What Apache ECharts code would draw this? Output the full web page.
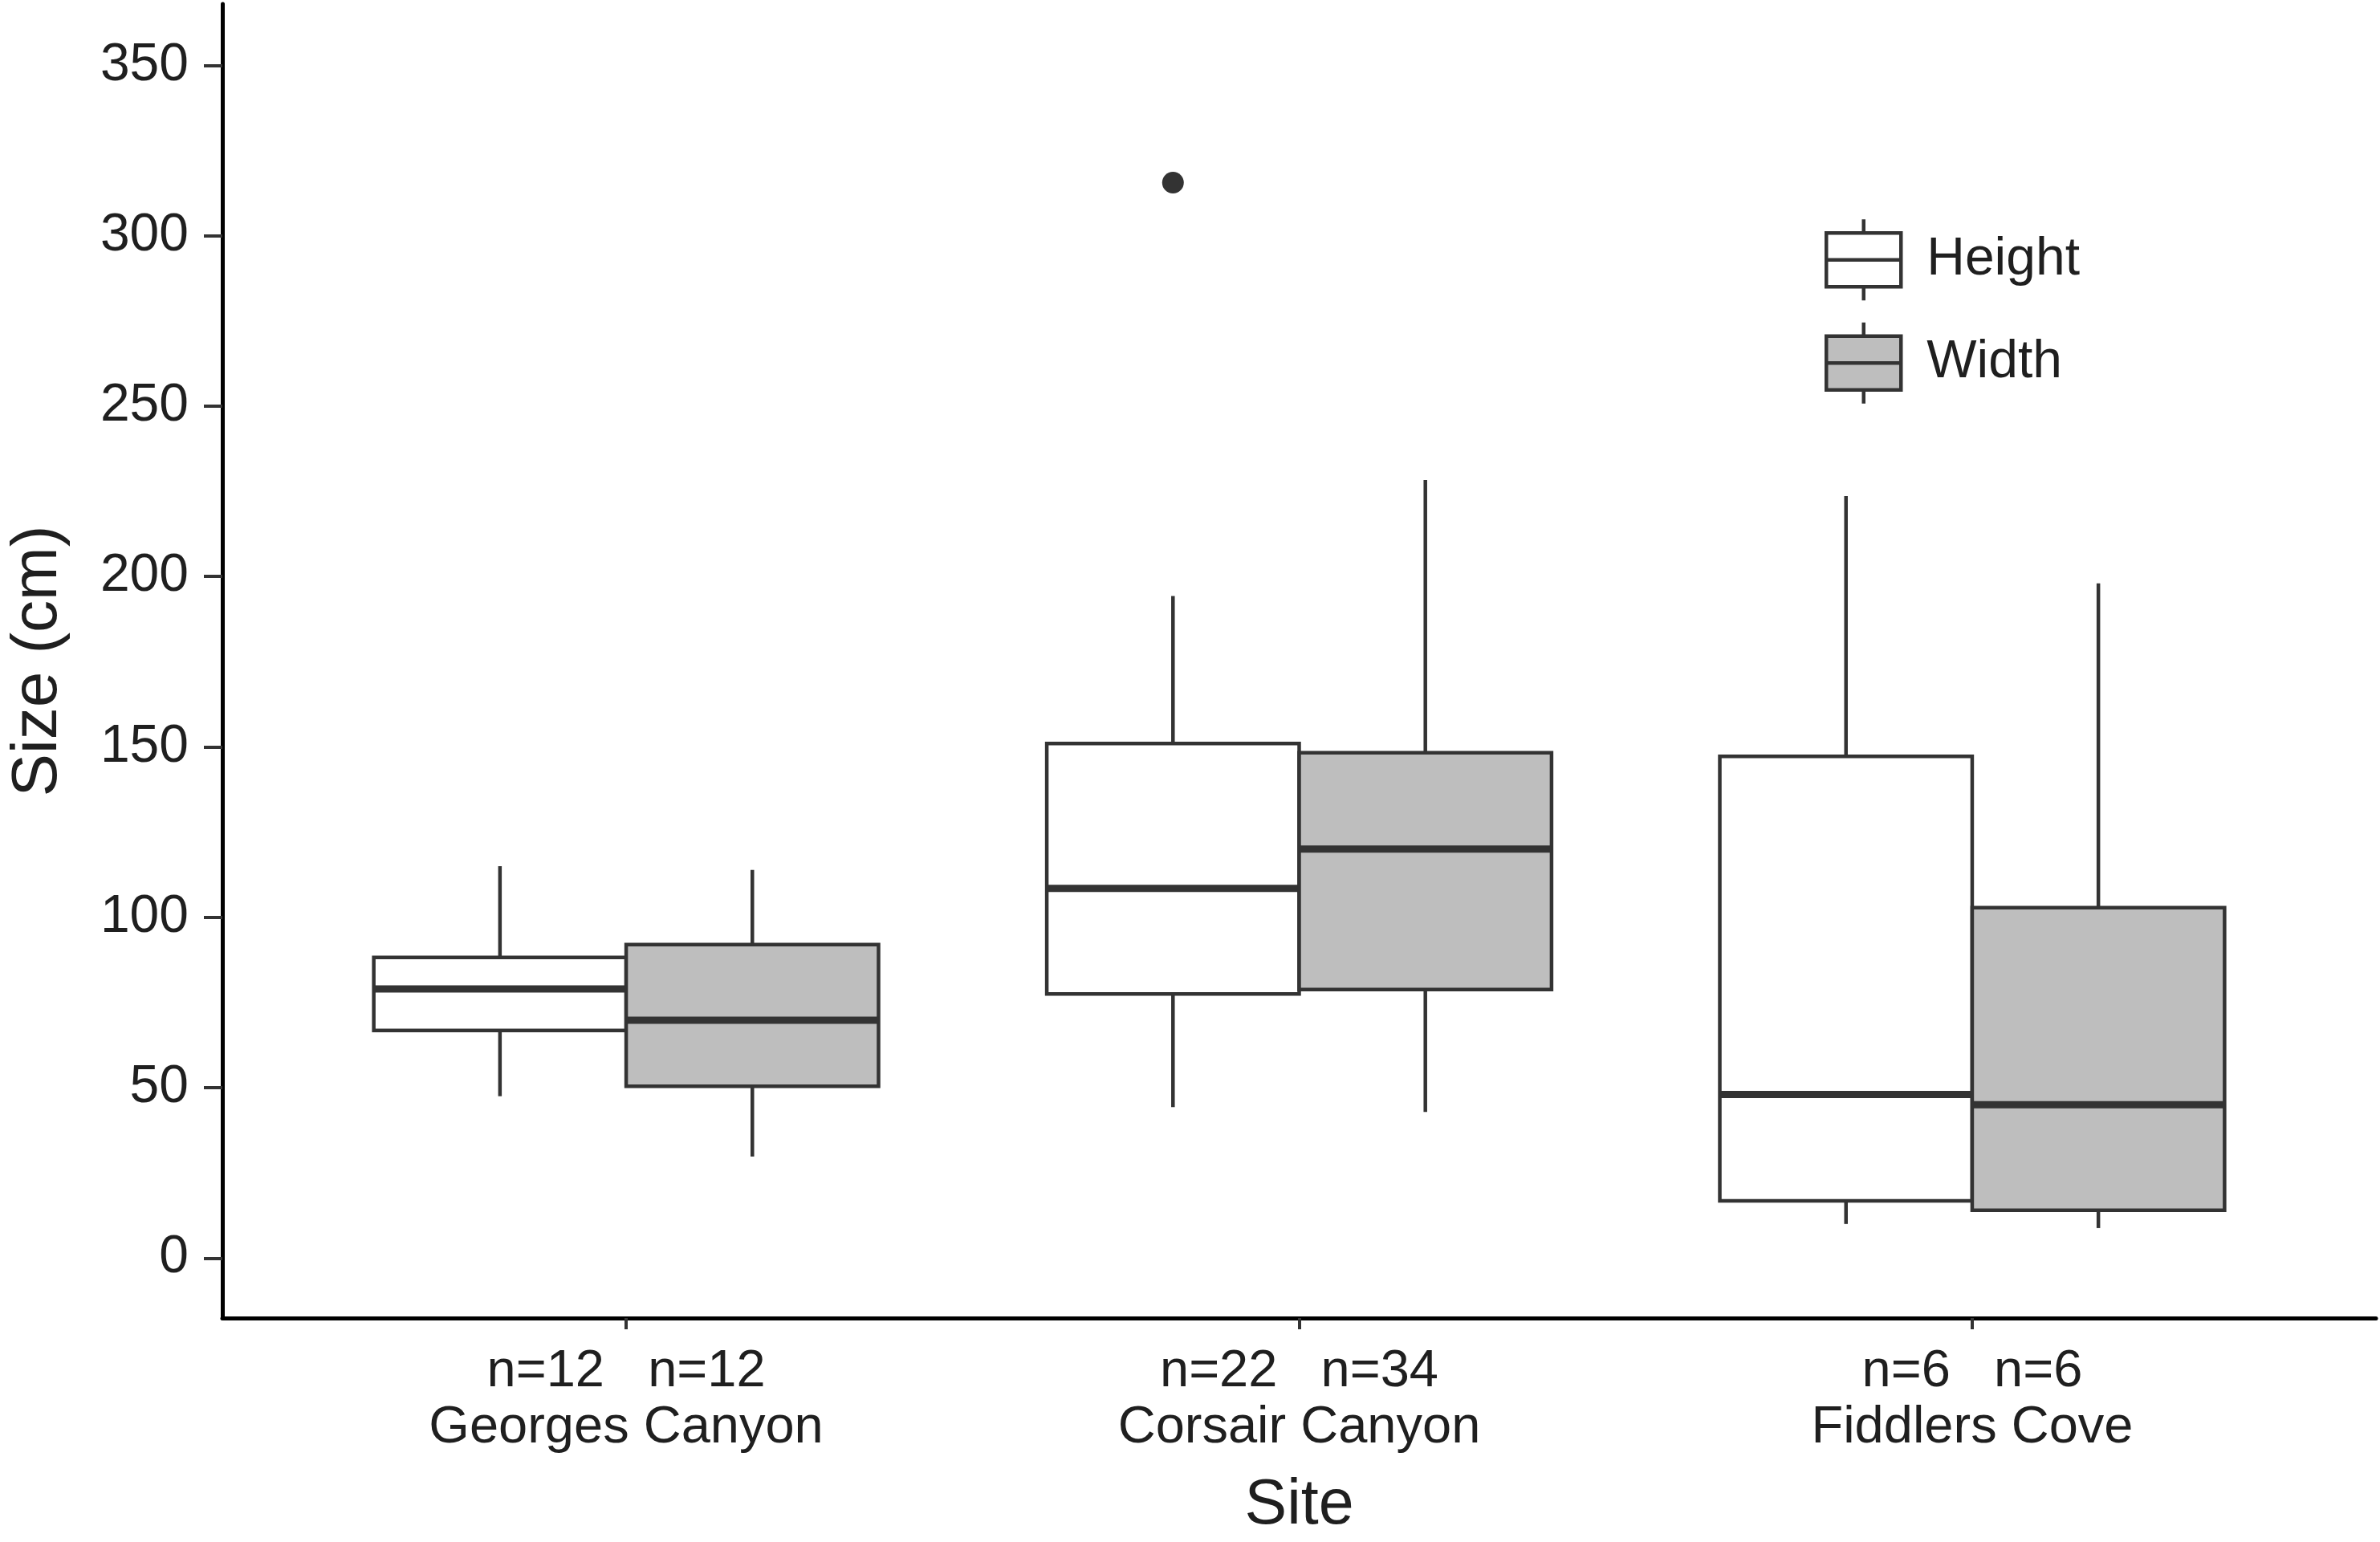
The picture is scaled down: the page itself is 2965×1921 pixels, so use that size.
<!DOCTYPE html>
<html>
<head>
<meta charset="utf-8">
<title>Size by site</title>
<script src="https://cdn.jsdelivr.net/npm/echarts@6/dist/echarts.min.js"></script>
<style>
  html, body { margin: 0; padding: 0; background: #fff; }
  #chart { width: 2965px; height: 1921px; }
</style>
</head>
<body>
<div id="chart"></div>
<script>
// sites along the x axis
var sites = ['Georges Canyon', 'Corsair Canyon', 'Fiddlers Cove'];
// sample sizes
var heightN = [12, 22, 6];
var widthN = [12, 34, 6];
// box stats per site: [lower whisker, Q1, median, Q3, upper whisker]
var heightBox = [
    [47.5, 66.8, 79, 88.2, 115],
    [44.3, 77.5, 108.5, 151, 194.3],
    [10, 16.8, 48, 147.2, 223.6]
];
var widthBox = [
    [29.8, 50.4, 69.8, 92, 113.9],
    [42.9, 78.8, 120, 148.3, 228.3],
    [8.8, 14, 45, 102.8, 198]
];
// outliers per site
var heightOutliers = [[], [315.6], []];
var widthOutliers = [[], [], []];
// y tick labels
var yTicks = [0, 50, 100, 150, 200, 250, 300, 350];

var LINE = '#333333';
var TEXT = '#1f1f1f';
var FONT = 'Liberation Sans, Arial, sans-serif';
var HALF = 0.1875;   // half of one dodged box, in category units

var chart = echarts.init(document.getElementById('chart'));

function boxData(boxes) {
    var out = [];
    for (var i = 0; i < boxes.length; i++) {
        out.push([i + 1].concat(boxes[i]));
    }
    return out;
}

// draws one box + whiskers + outliers, shifted left/right for dodge
function makeRender(outliers, offset, fill) {
    return function (params, api) {
        var x = api.value(0) + offset;
        var left = api.coord([x - HALF, 0])[0];
        var right = api.coord([x + HALF, 0])[0];
        var cx = api.coord([x, 0])[0];
        var y = function (v) { return api.coord([x, v])[1]; };
        var lo = y(api.value(1)), q1 = y(api.value(2)), med = y(api.value(3));
        var q3 = y(api.value(4)), hi = y(api.value(5));
        var lineStyle = { stroke: LINE, lineWidth: 4.5 };
        var children = [
            { type: 'line', shape: { x1: cx, y1: q3, x2: cx, y2: hi }, style: lineStyle },
            { type: 'line', shape: { x1: cx, y1: q1, x2: cx, y2: lo }, style: lineStyle },
            { type: 'rect', shape: { x: left, y: q3, width: right - left, height: q1 - q3 },
              style: { fill: fill, stroke: LINE, lineWidth: 4.5 } },
            { type: 'line', shape: { x1: left, y1: med, x2: right, y2: med },
              style: { stroke: LINE, lineWidth: 9 } }
        ];
        var pts = outliers[params.dataIndex] || [];
        for (var k = 0; k < pts.length; k++) {
            children.push({ type: 'circle', shape: { cx: cx, cy: y(pts[k]), r: 13.5 },
                style: { fill: LINE } });
        }
        return { type: 'group', children: children };
    };
}

var keyIcon = 'path://M46.5,0L46.5,17M0,17L93,17L93,84L0,84ZM0,50.5L93,50.5M46.5,84L46.5,101';

var option = {
    animation: false,
    backgroundColor: '#fff',
    grid: { left: 272, right: 5, top: 5, bottom: 269 },
    legend: {
        left: 2268,
        top: 266,
        orient: 'vertical',
        itemWidth: 93,
        itemHeight: 101,
        itemGap: 23,
        itemStyle: { borderColor: LINE, borderWidth: 4.5 },
        textStyle: { fontFamily: FONT, fontSize: 66, color: TEXT, padding: [0, 0, 0, 27] },
        data: [
            { name: 'Height', icon: keyIcon },
            { name: 'Width', icon: keyIcon }
        ]
    },
    xAxis: {
        type: 'value',
        min: 0.4,
        max: 3.6,
        name: 'Site',
        nameLocation: 'middle',
        nameGap: 195,
        nameTextStyle: { fontFamily: FONT, fontSize: 79, color: TEXT },
        splitLine: { show: false },
        axisLine: { onZero: false, lineStyle: { color: '#000', width: 5 } },
        axisTick: { customValues: [1, 2, 3], length: 14, lineStyle: { color: LINE, width: 4 } },
        axisLabel: {
            customValues: [1, 2, 3],
            margin: 32,
            fontFamily: FONT,
            fontSize: 65,
            lineHeight: 70,
            color: TEXT,
            align: 'center',
            formatter: function (v) {
                var i = Math.round(v) - 1;
                return 'n=' + heightN[i] + '   n=' + widthN[i] + '\n' + sites[i];
            }
        }
    },
    yAxis: {
        type: 'value',
        min: -17.6,
        max: 368,
        name: 'Size (cm)',
        nameLocation: 'middle',
        nameRotate: 90,
        nameGap: 189,
        nameTextStyle: { fontFamily: FONT, fontSize: 80, color: TEXT },
        splitLine: { show: false },
        axisLine: { onZero: false, lineStyle: { color: '#000', width: 5 } },
        axisTick: { customValues: yTicks, length: 23, lineStyle: { color: LINE, width: 4 } },
        axisLabel: {
            customValues: yTicks,
            margin: 42,
            fontFamily: FONT,
            fontSize: 66,
            color: TEXT
        }
    },
    series: [
        {
            name: 'Height',
            type: 'custom',
            itemStyle: { color: '#ffffff', borderColor: LINE },
            renderItem: makeRender(heightOutliers, -HALF, '#ffffff'),
            encode: { x: 0, y: [1, 2, 3, 4, 5] },
            data: boxData(heightBox)
        },
        {
            name: 'Width',
            type: 'custom',
            itemStyle: { color: '#bebebe', borderColor: LINE },
            renderItem: makeRender(widthOutliers, HALF, '#bebebe'),
            encode: { x: 0, y: [1, 2, 3, 4, 5] },
            data: boxData(widthBox)
        }
    ]
};

chart.setOption(option);
</script>
</body>
</html>
